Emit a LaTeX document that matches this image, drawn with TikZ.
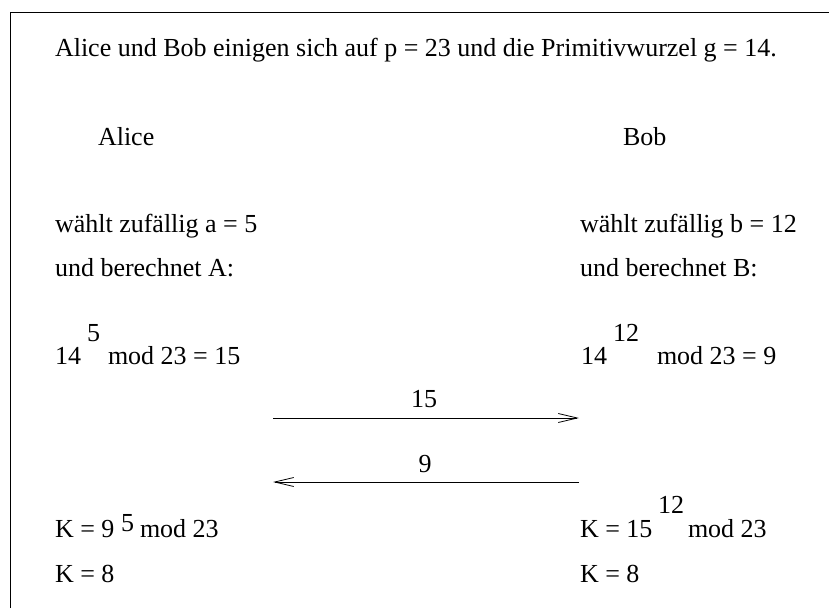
\documentclass[tikz,border=0pt]{standalone}
\usepackage{fontspec}
\setmainfont{Liberation Serif}
\usetikzlibrary{arrows.meta}
\tikzset{
  txt/.style={anchor=base west, inner sep=0pt, outer sep=0pt, font=\fontsize{26}{30}\selectfont},
  ctxt/.style={anchor=base, inner sep=0pt, outer sep=0pt, font=\fontsize{26}{30}\selectfont},
  msg/.style={line width=0.8pt, -{Straight Barb[length=19pt,width=9pt,line width=0.8pt]}},
  frame/.style={line width=0.9pt}
}
\begin{document}
\begin{tikzpicture}[x=1pt,y=-1pt]
\useasboundingbox (0,0) rectangle (829,608);
\draw[frame] (10,608) -- (10,12) -- (829,12);
\node[txt] (title) at (55,56) {Alice und Bob einigen sich auf p = 23 und die Primitivwurzel g = 14.};
\node[txt] (alice) at (98,145) {Alice};
\node[txt] (bob) at (623,145) {Bob};
\node[txt] (wa) at (55,232) {wählt zufällig a = 5};
\node[txt] (ba) at (55,276) {und berechnet A:};
\node[txt] (wb) at (580,232) {wählt zufällig b = 12};
\node[txt] (bb) at (580,276) {und berechnet B:};
% Alice computes A
\node[txt] (a14) at (55,364) {14};
\node[txt] (a5) at (87,341) {5};
\node[txt] (amod) at (108,364) {mod 23 = 15};
% Bob computes B
\node[txt] (b14) at (581,364) {14};
\node[txt] (b12) at (613,341) {12};
\node[txt] (bmod) at (657,364) {mod 23 = 9};
% messages
\coordinate (m1s) at (273,418);
\coordinate (m1e) at (579,418);
\coordinate (m2s) at (579,482);
\coordinate (m2e) at (273,482);
\draw[msg] (m1s) -- (m1e);
\draw[msg] (m2s) -- (m2e);
\node[ctxt] (l15) at (424,407) {15};
\node[ctxt] (l9) at (425,472) {9};
% keys
\node[txt] (ak) at (55,537) {K = 9};
\node[txt] (ak5) at (121,531) {5};
\node[txt] (akmod) at (140,537) {mod 23};
\node[txt] (ak8) at (55,582) {K = 8};
\node[txt] (bk) at (580,537) {K = 15};
\node[txt] (bk12) at (658,513) {12};
\node[txt] (bkmod) at (688,537) {mod 23};
\node[txt] (bk8) at (580,582) {K = 8};
\end{tikzpicture}
\end{document}
